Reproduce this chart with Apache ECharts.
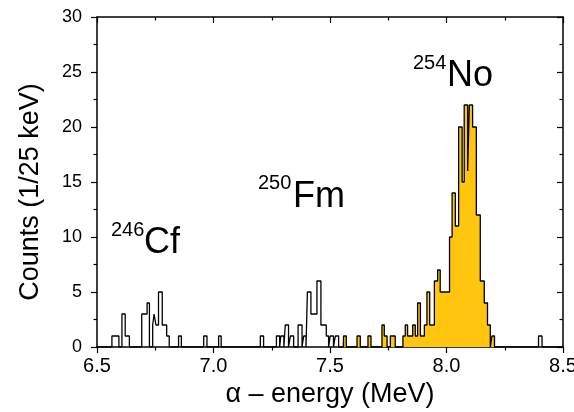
<!DOCTYPE html>
<html><head><meta charset="utf-8">
<script src="https://cdn.jsdelivr.net/npm/echarts@6/dist/echarts.min.js"></script>
<style>html,body{margin:0;padding:0;background:#fff}#c{width:574px;height:412px}</style>
</head><body><div id="c"></div>
<script>
// Histogram outline: count level starting at each energy (MeV), held until the next energy
const stepEnergy = [6.5,
  6.564, 6.594, 6.607, 6.621, 6.639,
  6.692, 6.715, 6.725, 6.739, 6.745, 6.753, 6.764, 6.780, 6.799, 6.810,
  6.850, 6.862, 6.958, 6.972, 7.022, 7.033,
  7.201, 7.215, 7.270, 7.284, 7.289, 7.302, 7.308, 7.322, 7.330, 7.344,
  7.363, 7.380, 7.387, 7.397, 7.403, 7.418, 7.444, 7.461, 7.484, 7.494,
  7.501, 7.515, 7.523, 7.537, 7.558, 7.570, 7.616, 7.630, 7.663, 7.676,
  7.723, 7.733, 7.745, 7.759, 7.780,
  7.813, 7.823, 7.833, 7.855, 7.866, 7.876, 7.888, 7.905, 7.916, 7.928,
  7.948, 7.962, 7.973, 8.013, 8.024, 8.038, 8.052, 8.067, 8.076, 8.091,
  8.098, 8.112, 8.128, 8.145, 8.162, 8.176, 8.188, 8.195, 8.206,
  8.395, 8.410, 8.5];
const stepCount = [0,
  1, 0, 3, 1, 0,
  3, 4, 0, 2, 3, 2, 5, 2, 1, 0,
  1, 0, 1, 0, 1, 0,
  1, 0, 1, 0, 1, 0, 2, 0, 1, 0,
  2, 0, 1, 0, 5, 3, 6, 2, 1, 0,
  1, 0, 1, 0, 1, 0, 1, 0, 1, 0,
  2, 1, 0, 1, 0,
  1, 2, 1, 2, 1, 4, 1, 2, 5, 2,
  6, 7, 5, 10, 14, 11, 20, 15, 22, 16,
  22, 20, 12, 6, 4, 2, 0, 1, 0,
  1, 0, 0];
const noRange = [7.55, 8.25];  // 254No alpha group (yellow)
const xTicks = [6.5, 7.0, 7.5, 8.0, 8.5];
const yTicks = [0, 5, 10, 15, 20, 25, 30];

const outline = stepEnergy.map((e, i) => [e, stepCount[i]]);
const yellow = [[noRange[0], 0]].concat(
  outline.filter(p => p[0] >= noRange[0] && p[0] <= noRange[1]));

const FONT = '"Liberation Sans", Arial, sans-serif';
const chart = echarts.init(document.getElementById('c'), null, {renderer: 'canvas'});
const axisLine = {show: true, onZero: false, lineStyle: {color: '#000', width: 1.5}};
const tick = (inside) => ({show: true, inside, length: 6, lineStyle: {color: '#000', width: 1.2}});
const minor = {show: true, splitNumber: 2, length: 3.5, lineStyle: {color: '#000', width: 1.2}};
chart.setOption({
  animation: false,
  backgroundColor: '#fff',
  grid: {left: 97, right: 11, top: 17, bottom: 65, containLabel: false, outerBoundsMode: 'none'},
  xAxis: [{
    type: 'value', min: xTicks[0], max: xTicks[xTicks.length - 1], interval: 0.5, position: 'bottom',
    axisLine, splitLine: {show: false}, axisTick: tick(false), minorTick: minor,
    axisLabel: {margin: 9, formatter: v => v.toFixed(1), color: '#000', fontSize: 20, fontFamily: FONT},
    name: 'α – energy (MeV)', nameLocation: 'middle', nameGap: 34,
    nameTextStyle: {color: '#000', fontSize: 27, fontFamily: FONT}
  }, {
    type: 'value', min: xTicks[0], max: xTicks[xTicks.length - 1], interval: 0.5, position: 'top',
    axisLine, splitLine: {show: false}, axisLabel: {show: false},
    axisTick: tick(true), minorTick: minor
  }],
  yAxis: [{
    type: 'value', min: yTicks[0], max: yTicks[yTicks.length - 1], interval: 5, position: 'left',
    axisLine, splitLine: {show: false}, axisTick: tick(false), minorTick: minor,
    axisLabel: {margin: 15, color: '#000', fontSize: 18, fontFamily: FONT},
    name: 'Counts (1/25 keV)', nameLocation: 'middle', nameGap: 53, nameRotate: 90,
    nameTextStyle: {color: '#000', fontSize: 27, fontFamily: FONT, padding: [0, 20, 0, 0]}
  }, {
    type: 'value', min: yTicks[0], max: yTicks[yTicks.length - 1], interval: 5, position: 'right',
    axisLine, splitLine: {show: false}, axisLabel: {show: false},
    axisTick: tick(true), minorTick: minor
  }],
  series: [{
    type: 'line', step: 'end', data: yellow, symbol: 'none', z: 2,
    lineStyle: {width: 0, opacity: 0},
    areaStyle: {color: '#FFC50F', opacity: 1}
  }, {
    type: 'line', step: 'end', data: outline, symbol: 'none', z: 3,
    lineStyle: {color: '#000', width: 1.3}
  }],
  graphic: [
    {type: 'text', x: 413, y: 63, style: {text: '254', font: '20px ' + FONT, fill: '#000', verticalAlign: 'middle'}},
    {type: 'text', x: 447, y: 76, style: {text: 'No', font: '36px ' + FONT, fill: '#000', verticalAlign: 'middle'}},
    {type: 'text', x: 258, y: 183, style: {text: '250', font: '20px ' + FONT, fill: '#000', verticalAlign: 'middle'}},
    {type: 'text', x: 293, y: 197, style: {text: 'Fm', font: '36px ' + FONT, fill: '#000', verticalAlign: 'middle'}},
    {type: 'text', x: 111, y: 230, style: {text: '246', font: '20px ' + FONT, fill: '#000', verticalAlign: 'middle'}},
    {type: 'text', x: 144, y: 243, style: {text: 'Cf', font: '36px ' + FONT, fill: '#000', verticalAlign: 'middle'}}
  ]
});
</script></body></html>
